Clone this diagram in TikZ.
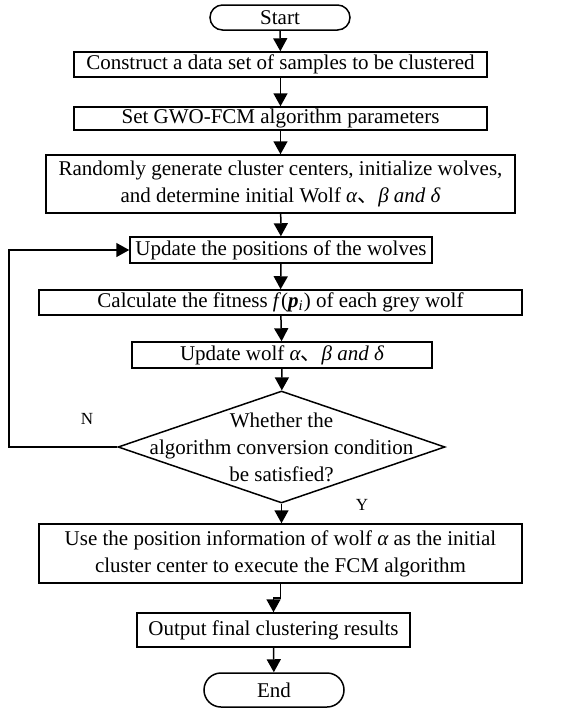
\documentclass[tikz,border=0pt]{standalone}
\usepackage{fontspec}
\setmainfont{Liberation Serif}
\newfontfamily\cjk{Noto Sans CJK SC}
\usetikzlibrary{shapes.geometric,shapes.misc,arrows.meta}
\newcommand{\dunhao}{{\cjk 、}}
\newcommand{\wolves}{{\itshape α}\dunhao{\itshape β and δ}}

\tikzset{
    box/.style={draw, line width=0.75pt, inner sep=0pt, align=center, font=\fontsize{10.5}{13.5}\selectfont},
    terminal/.style={box, rounded rectangle},
    decision/.style={draw, line width=0.75pt, diamond, inner sep=0pt},
    flow/.style={line width=0.75pt, -{Triangle[length=6.5pt,width=7pt]}},
    yn/.style={font=\fontsize{8.5}{9}\selectfont}
}

\begin{document}
\begin{tikzpicture}[x=0.5pt,y=-0.5pt]
    \useasboundingbox (0,0) rectangle (576,708);
    \node[terminal, minimum width=70pt, minimum height=12.5pt] (start) at (280,17.5) {Start};
    \node[box, minimum width=206.5pt, minimum height=12.5pt] (data) at (280.5,64.5) {Construct a data set of samples to be clustered};
    \node[box, minimum width=206.5pt, minimum height=11.5pt] (param) at (280.5,118.5) {Set GWO-FCM algorithm parameters};
    \node[box, minimum width=234.5pt, minimum height=29pt] (init) at (280.5,184) {Randomly generate cluster centers, initialize wolves,\\ and determine initial Wolf~\wolves};
    \node[box, minimum width=151pt, minimum height=13pt] (pos) at (281,250) {Update the positions of the wolves};
    \node[box, minimum width=241.5pt, minimum height=12.5pt] (fit) at (280.5,302.5) {Calculate the fitness \textit{f}(\textbf{\textit{p}}\textsubscript{\textit{i}}) of each grey wolf};
    \node[box, minimum width=150pt, minimum height=13pt] (lead) at (282,355) {Update wolf~\wolves};
    \node[decision, minimum width=163.5pt, minimum height=56pt,
        label={[align=center, font=\fontsize{10.5}{13.5}\selectfont]center:Whether the\\ algorithm conversion condition\\ be satisfied?}] (cond) at (281.5,447) {};
    \node[box, minimum width=241.5pt, minimum height=29.5pt] (fcm) at (280.5,553.5) {Use the position information of wolf~{\itshape α} as the initial\\ cluster center to execute the FCM algorithm};
    \node[box, minimum width=136.5pt, minimum height=17pt] (out) at (273.5,630) {Output final clustering results};
    \node[terminal, minimum width=70pt, minimum height=17pt] (end) at (274,690) {End};

    \node[yn] (no) at (87,419) {N};
    \node[yn] (yes) at (362,505) {Y};
    \coordinate (back) at (9,447);

    \draw[flow] (start) -- (data);
    \draw[flow] (data) -- (param);
    \draw[flow] (param) -- (init);
    \draw[flow] (init) -- (pos);
    \draw[flow] (pos) -- (fit);
    \draw[flow] (fit) -- (lead);
    \draw[flow] (lead) -- (cond);
    \draw[flow] (cond.west) -- (back) |- (pos.west);
    \draw[flow] (cond.south) -- (fcm.north -| cond.south);
    \draw[flow] (fcm.south) -- ++(0,14) -| (out.north);
    \draw[flow] (out) -- (end);
\end{tikzpicture}
\end{document}
